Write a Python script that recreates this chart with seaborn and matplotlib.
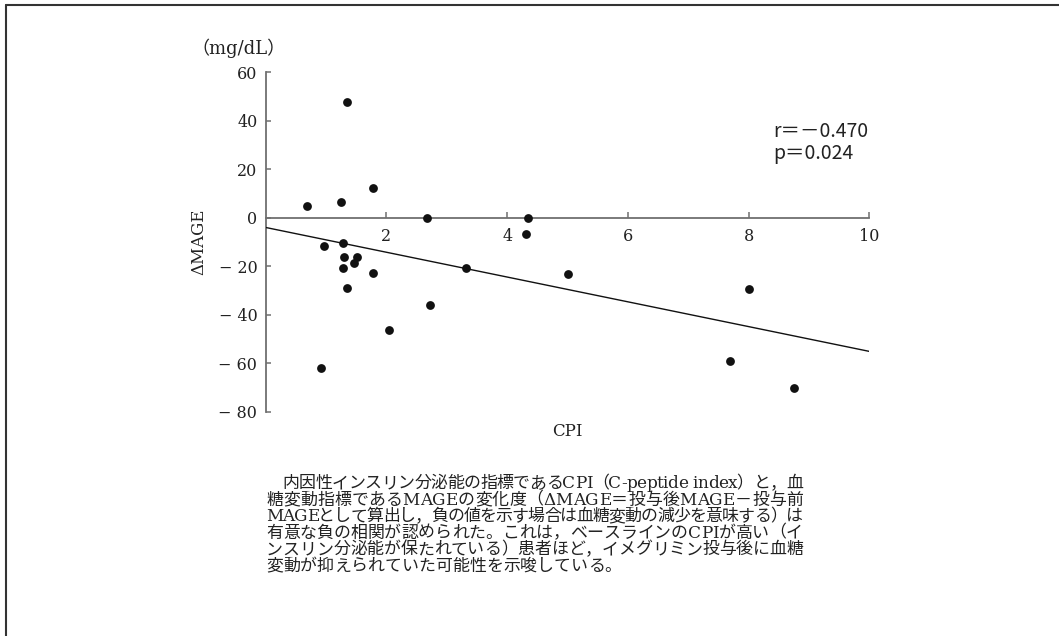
import numpy as np
import pandas as pd
import matplotlib
matplotlib.use("Agg")
import matplotlib.pyplot as plt
import seaborn as sns
from matplotlib.lines import Line2D
from matplotlib import font_manager
from matplotlib.ft2font import FT2Font

# ---------------- data ----------------
cpi = [0.68, 1.25, 1.34, 1.77, 2.67, 4.35, 0.97, 1.28, 1.30, 1.28, 1.52, 1.46,
       1.34, 1.77, 2.72, 2.04, 0.92, 3.32, 4.32, 5.01, 8.01, 7.70, 8.75]
delta_mage = [4.9, 6.6, 47.8, 12.2, 0.0, 0.0, -11.5, -10.3, -16.1, -20.6, -16.3, -18.7,
              -28.9, -22.8, -36.0, -46.2, -62.0, -20.5, -6.6, -23.2, -29.3, -59.0, -70.2]
x_ticks = [2, 4, 6, 8, 10]
y_ticks = [60, 40, 20, 0, -20, -40, -60, -80]
y_tick_labels = ["60", "40", "20", "0", "− 20", "− 40", "− 60", "− 80"]
x_label = "CPI"
y_label = "ΔMAGE"
unit_label = "（mg/dL）"
stats_lines = ["r＝－0.470", "p＝0.024"]
caption_lines = [
    "　内因性インスリン分泌能の指標であるCPI（C-peptide index）と，血",
    "糖変動指標であるMAGEの変化度（ΔMAGE＝投与後MAGE－投与前",
    "MAGEとして算出し，負の値を示す場合は血糖変動の減少を意味する）は",
    "有意な負の相関が認められた。これは，ベースラインのCPIが高い（イ",
    "ンスリン分泌能が保たれている）患者ほど，イメグリミン投与後に血糖",
    "変動が抑えられていた可能性を示唆している。",
]

# ---------------- style ----------------
sns.set_theme(style="white")
FAMILIES = ["DejaVu Serif", "Noto Sans CJK JP"]
plt.rcParams["font.family"] = FAMILIES
plt.rcParams["axes.unicode_minus"] = True

W, H = 1059, 636
DPI = 100
fig = plt.figure(figsize=(W / DPI, H / DPI), dpi=DPI)
fig.patch.set_facecolor("white")


def fx(px):
    return px / W


def fy(py):
    return 1 - py / H


ax = fig.add_axes([fx(265.7), fy(412.0), (869.3 - 265.7) / W, (412.0 - 72.3) / H])
ax.set_xlim(0, 10)
ax.set_ylim(-80, 60)

df = pd.DataFrame({"CPI": cpi, "dMAGE": delta_mage})
sns.regplot(data=df, x="CPI", y="dMAGE", ax=ax, ci=None, truncate=False,
            scatter_kws={"s": 40, "color": "#111111", "linewidths": 0, "alpha": 1, "zorder": 4},
            line_kws={"color": "#111111", "linewidth": 1.0, "zorder": 3})
ax.set_xlim(0, 10)
ax.set_ylim(-80, 60)

for s in ["top", "right"]:
    ax.spines[s].set_visible(False)
ax.spines["bottom"].set_position(("data", 0))
for s in ["left", "bottom"]:
    ax.spines[s].set_color("#6f6f6f")
    ax.spines[s].set_linewidth(1.3)
    ax.spines[s].set_zorder(2)

ax.set_xticks(x_ticks)
ax.set_xticklabels([str(t) for t in x_ticks])
ax.set_yticks(y_ticks)
ax.set_yticklabels(y_tick_labels)
ax.tick_params(axis="both", direction="in", colors="#6f6f6f", labelcolor="#222222",
               labelsize=11.5, bottom=True, left=True, top=False, right=False)
ax.tick_params(axis="x", length=4.5, width=1.1, pad=7)
ax.tick_params(axis="y", length=3.5, width=1.1, pad=6)
ax.set_xlabel("")
ax.set_ylabel("")
ax.grid(False)

fig.text(fx(567.5), fy(431), x_label, ha="center", va="center", fontsize=12, color="#222222")
fig.text(fx(198.5), fy(242), y_label, ha="center", va="center", rotation=90,
         fontsize=12, color="#222222")
fig.text(fx(238), fy(48), unit_label, ha="center", va="center", fontsize=13, color="#222222")

for i, line in enumerate(stats_lines):
    fig.text(fx(773), fy(132 + 21 * i), line, ha="left", va="center", fontsize=14,
             color="#222222", family=["Noto Sans CJK JP", "DejaVu Sans"])

# ---------------- justified caption ----------------
CAP_SIZE = 12.2
fonts = []
for fam in FAMILIES:
    try:
        path = font_manager.findfont(font_manager.FontProperties(family=fam),
                                     fallback_to_default=False)
        f = FT2Font(path)
        f.set_size(CAP_SIZE, DPI)
        fonts.append(f)
    except Exception:
        pass


def advance(ch):
    for f in fonts:
        try:
            if f.get_char_index(ord(ch)) != 0:
                g = f.load_char(ord(ch))
                return g.linearHoriAdvance / 65536.0
        except Exception:
            continue
    return CAP_SIZE * DPI / 72.0


left_px, right_px = 266.0, 803.0
base0, line_step = 488.0, 16.55
for i, line in enumerate(caption_lines):
    advs = [advance(c) for c in line]
    natural = sum(advs)
    n = len(line)
    last = i == len(caption_lines) - 1
    gap = 0.0 if last or n < 2 else (right_px - left_px - natural) / (n - 1)
    xpos = left_px
    yb = fy(base0 + line_step * i)
    for c, a in zip(line, advs):
        if not c.isspace():
            fig.text(fx(xpos), yb, c, ha="left", va="baseline",
                     fontsize=CAP_SIZE, color="#222222")
        xpos += a + gap

# frame lines (top and left) of the figure panel
fig.add_artist(Line2D([fx(6), 1], [fy(5), fy(5)], transform=fig.transFigure,
                      color="#333333", linewidth=1.5))
fig.add_artist(Line2D([fx(6), fx(6)], [0, fy(5)], transform=fig.transFigure,
                      color="#333333", linewidth=1.5))

fig.savefig("out.png", dpi=DPI, facecolor="white")
